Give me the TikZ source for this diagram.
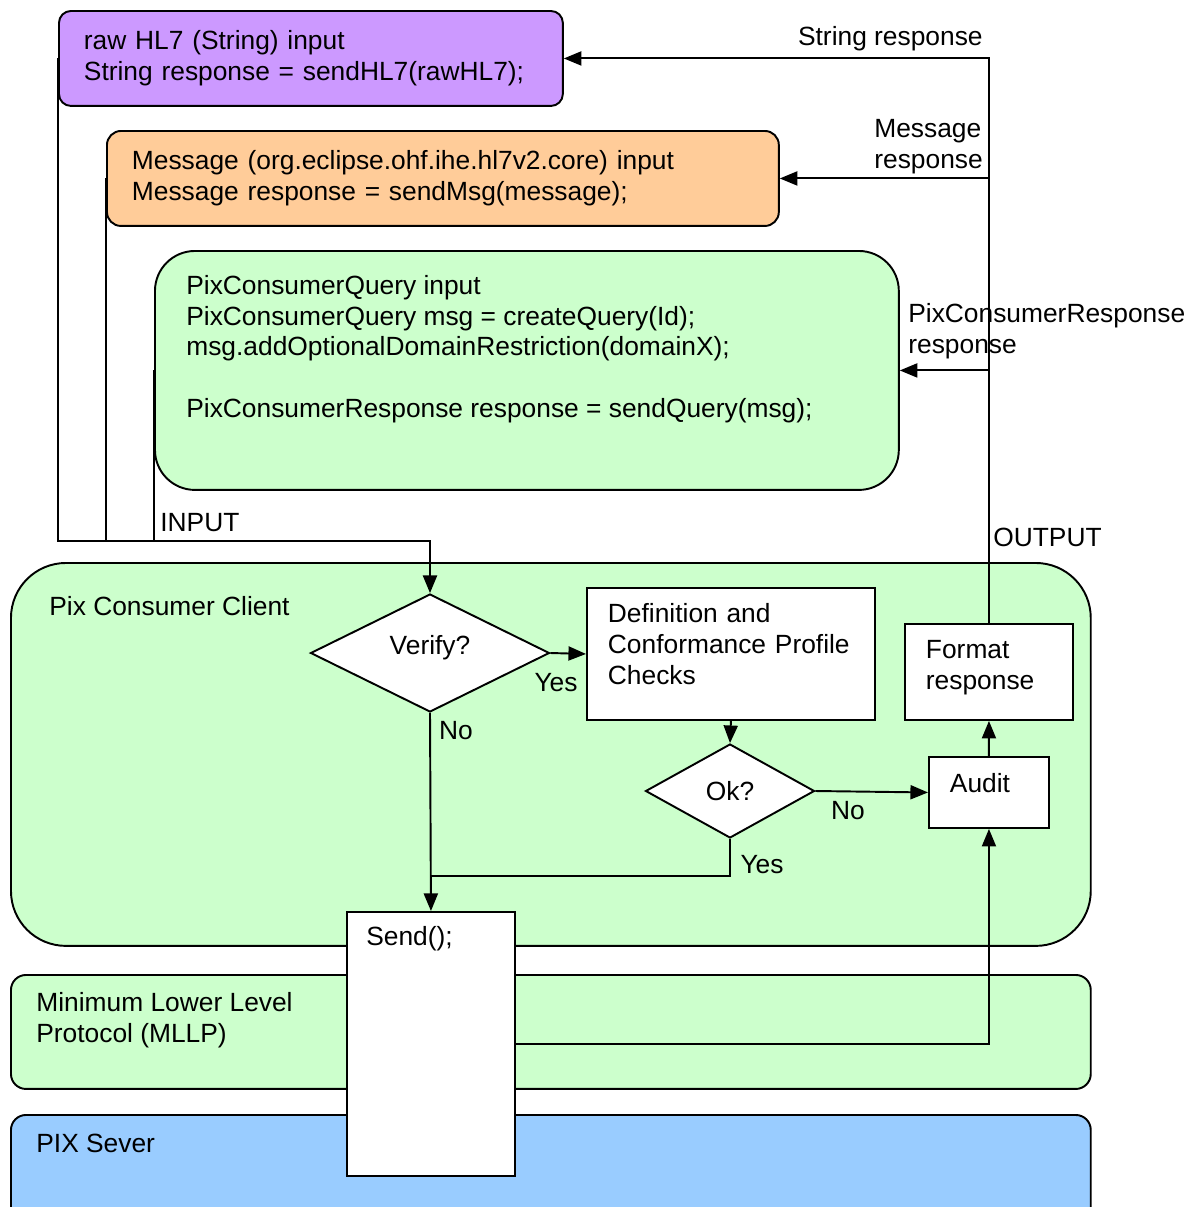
\documentclass[tikz,border=0pt]{standalone}
\usepackage{fontspec}
\setmainfont{Liberation Sans}
\usepackage{xcolor}
\usepackage{tikz}
\usetikzlibrary{
	arrows.meta,
        shapes,
        positioning,
}

\definecolor{rawpurple}{HTML}{CC99FF}
\definecolor{msgorange}{HTML}{FFCC99}
\definecolor{pixgreen}{HTML}{CCFFCC}
\definecolor{pixblue}{HTML}{99CCFF}

\begin{document}
\begin{tikzpicture}[x=0.02cm, y=-0.02cm,
        every node/.style={font=\fontsize{15}{17.5}\selectfont},
        box/.style={draw, line width=1.1pt},
        codebox/.style={box, anchor=north west, align=left, inner xsep=0.5cm, minimum height=1.9cm},
        stepbox/.style={box, fill=white, anchor=north west, align=left, inner xsep=0.42cm},
        decision/.style={box, diamond, fill=white, inner sep=0pt},
        layer/.style={box, fill=pixgreen, anchor=north west, minimum width=21.6cm},
        txt/.style={align=left, inner sep=0pt},
        wire/.style={line width=1.1pt},
        flow/.style={wire, -{Triangle[length=10pt,width=8pt]}},
    ]
            \useasboundingbox (0,0) rectangle (1192,1207);
            \clip (0,0) rectangle (1192,1207);

            % layers
            \node[layer, minimum height=7.66cm, rounded corners=1.1cm] (client) at (10,562) {};
            \node[layer, minimum height=2.28cm, rounded corners=0.3cm] (mllp) at (10,974) {};
            \node[layer, fill=pixblue, minimum height=2.4cm, rounded corners=0.3cm] (server) at (10,1114) {};
            \node[txt, anchor=west] (clienttxt) at (49,606) {Pix Consumer Client};
            \node[txt, anchor=west] (mllptxt) at (36,1020) {Minimum Lower Level\\Protocol (MLLP)};
            \node[txt, anchor=west] (servertxt) at (36,1143) {PIX Sever};

            % inputs
            \node[codebox, fill=rawpurple, text width=9.08cm, rounded corners=0.24cm] (raw) at (58,10)
                {raw HL7 (String) input\\String response = sendHL7(rawHL7);};
            \node[codebox, fill=msgorange, text width=12.44cm, rounded corners=0.28cm] (orange) at (106,130)
                {Message (org.eclipse.ohf.ihe.hl7v2.core) input\\Message response = sendMsg(message);};
            \node[box, fill=pixgreen, anchor=north west, minimum width=14.88cm, minimum height=4.78cm,
                rounded corners=0.8cm] (query) at (154,250) {};
            \node[txt, anchor=west] (querytxt) at (186,349)
                {PixConsumerQuery input\\PixConsumerQuery msg = createQuery(Id);\\msg.addOptionalDomainRestriction(domainX);\\[17.5pt]PixConsumerResponse response = sendQuery(msg);};

            % flow
            \node[decision, minimum width=4.78cm, minimum height=2.36cm, text depth=0.31cm] (verify) at (430,653) {Verify?};
            \node[stepbox, text width=4.92cm, minimum height=2.64cm, text depth=1.64cm] (defchk) at (586,587)
                {Definition and\\Conformance Profile\\Checks};
            \node[decision, minimum width=3.38cm, minimum height=1.88cm] (ok) at (730,791) {Ok?};
            \node[stepbox, text width=1.56cm, minimum height=1.42cm, text depth=0.4cm] (audit) at (928,756) {Audit};
            \node[stepbox, text width=2.52cm, minimum height=1.92cm, text depth=0.89cm] (fmt) at (904,623) {Format\\response};
            \node[box, fill=white, anchor=north west, minimum width=3.36cm, minimum height=5.28cm] (send) at (346,911) {};
            \node[txt, anchor=west] (sendtxt) at (366,939) {Send();};

            % connectors
            \coordinate (inbus) at (430,541);
            \coordinate (merge) at (430,876);
            \draw[flow] (raw.west) |- (inbus) -- (verify.north);
            \draw[wire] (orange.west) |- (inbus);
            \draw[wire] (query.west) |- (inbus);
            \draw[flow] (verify.east) -- (defchk.west);
            \draw[flow] (defchk.south) -- (ok.north);
            \draw[flow] (ok.east) -- (audit.west);
            \draw[flow] (audit.north) -- (fmt.south);
            \draw[flow] (fmt.north) |- (raw.east);
            \draw[flow] (fmt.north |- orange.east) -- (orange.east);
            \draw[flow] (fmt.north |- query.east) -- (query.east);
            \draw[flow] (verify.south) -- (send.north);
            \draw[wire] (ok.south) |- (merge);
            \draw[flow] (send.east) -| (audit.south);

            % labels
            \node[txt, anchor=west] (inlbl) at (160,523) {INPUT};
            \node[txt, anchor=west] (outlbl) at (993,537) {OUTPUT};
            \node[txt, anchor=east] (strresp) at (983,39) {String response};
            \node[txt, anchor=west] (msgresp) at (874,147) {Message\\response};
            \node[txt, anchor=west] (pixresp) at (908,331) {PixConsumerResponse\\response};
            \node[txt] (yes1) at (556,683) {Yes};
            \node[txt] (no1) at (456,731) {No};
            \node[txt] (no2) at (848,811) {No};
            \node[txt] (yes2) at (762,865) {Yes};
	\end{tikzpicture}
\end{document}
